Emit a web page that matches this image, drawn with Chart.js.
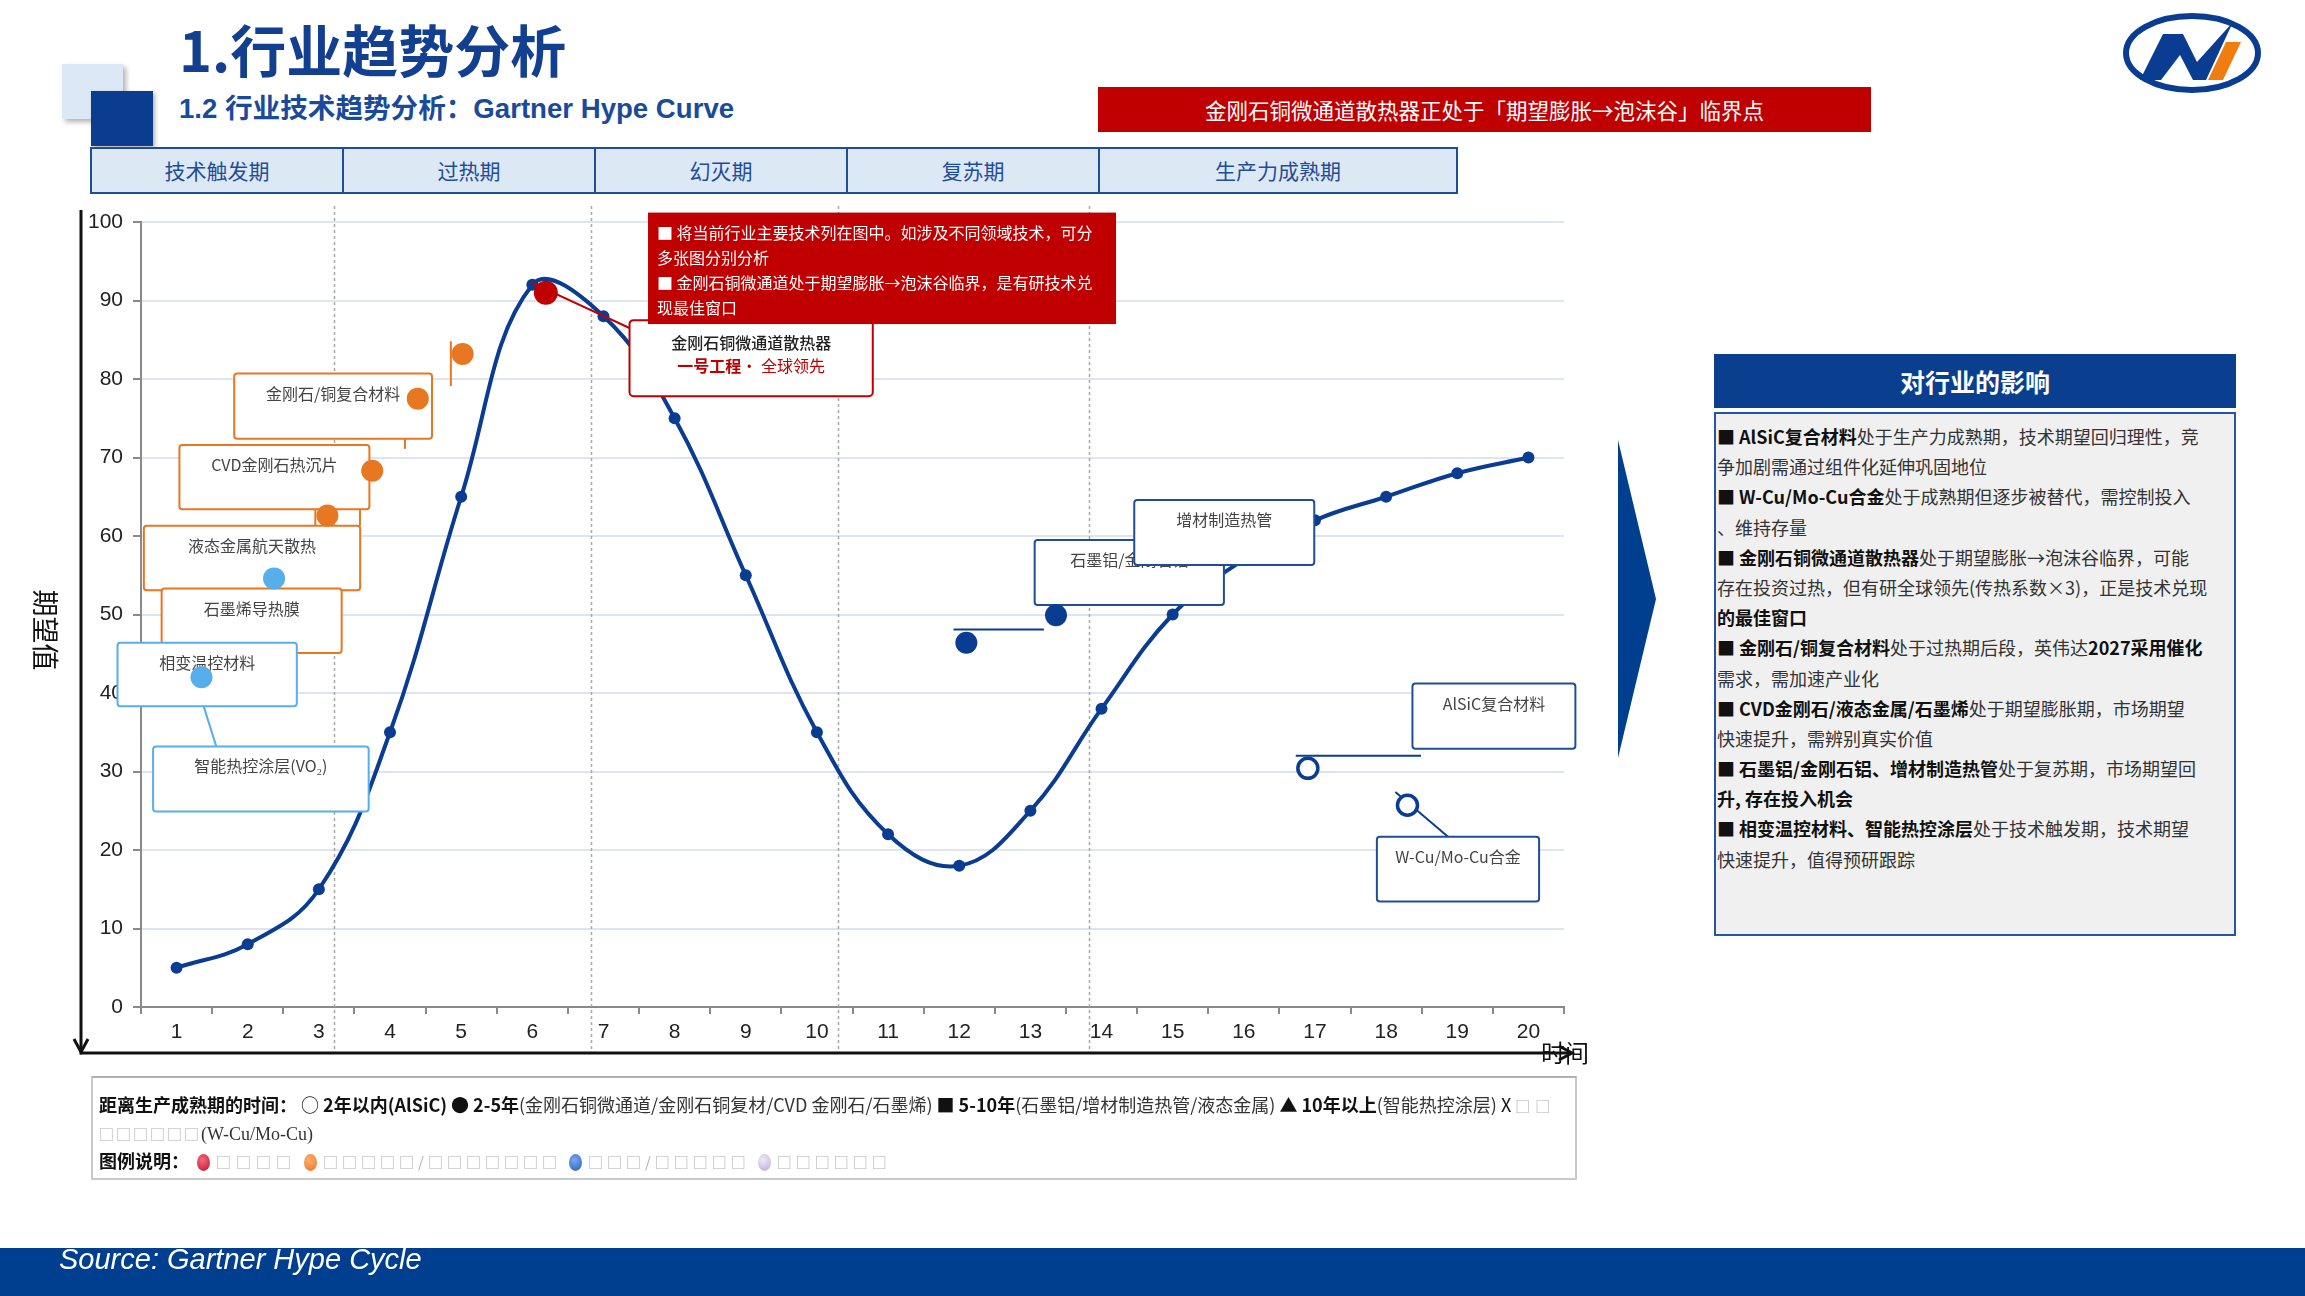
<!DOCTYPE html>
<html>
<head>
<meta charset="utf-8">
<script src="https://cdn.jsdelivr.net/npm/chart.js"></script>
<style>
  body { margin:0; width:2305px; height:1296px; position:relative; overflow:hidden; background:#fff;
         font-family:"Noto Sans CJK SC","Liberation Sans",sans-serif; }
  .abs { position:absolute; }
  .phase { position:absolute; top:147px; height:47px; box-sizing:border-box; background:#dde8f5;
           border:2px solid #1f4e99; color:#1f4e99; font-size:21px; line-height:43px; text-align:center; }
  #panelBody .ln { height:30.2px; line-height:30.2px; white-space:nowrap; font-size:18px; color:#333; }
  #panelBody b { color:#111; font-weight:700; }
  .lg { position:absolute; left:6px; height:24px; line-height:24px; font-size:18px; color:#111; white-space:nowrap; }
  .lg i { font-style:normal; color:#333; }
  .tofu { color:#b0b0b0; font-size:15px; letter-spacing:5px; }
  .ball { display:inline-block; width:13px; height:17px; border-radius:50%; vertical-align:-3px; margin:0 6px 0 8px; }
</style>
</head>
<body>

<!-- header -->
<div class="abs" style="left:62px;top:64px;width:61px;height:55px;background:#dce8f5;box-shadow:3px 3px 5px rgba(0,0,0,0.3)"></div>
<div class="abs" style="left:91px;top:91px;width:62px;height:55px;background:#0b3d8e;box-shadow:2px 2px 4px rgba(0,0,0,0.3)"></div>
<div class="abs" style="left:179px;top:12px;font-size:56px;line-height:72px;font-weight:700;color:#123f8f;">1.行业趋势分析</div>
<div class="abs" style="left:179px;top:92px;font-size:27.6px;line-height:34px;font-weight:700;color:#1a4a9a;font-family:'Liberation Sans','Noto Sans CJK SC',sans-serif;">1.2 行业技术趋势分析：Gartner Hype Curve</div>
<div class="abs" style="left:1098px;top:87px;width:773px;height:45px;background:#c00000;color:#fff;font-size:21.5px;line-height:45px;text-align:center;">金刚石铜微通道散热器正处于「期望膨胀→泡沫谷」临界点</div>

<svg class="abs" style="left:2110px;top:5px" width="170" height="100" viewBox="2110 5 170 100">
  <ellipse cx="2192" cy="53" rx="66" ry="37" fill="none" stroke="#0a3d91" stroke-width="6"/>
  <polygon points="2140,80 2163,34 2183,34 2197,62 2233,22 2206,80 2193,80 2180,55 2161,80" fill="#0a3d91"/>
  <polygon points="2208,80 2223,80 2241,42 2226,42" fill="#f07d10"/>
</svg>

<!-- phase header -->
<div class="phase" style="left:90px;width:254px;">技术触发期</div>
<div class="phase" style="left:342px;width:254px;">过热期</div>
<div class="phase" style="left:594px;width:254px;">幻灭期</div>
<div class="phase" style="left:846px;width:254px;">复苏期</div>
<div class="phase" style="left:1098px;width:360px;">生产力成熟期</div>

<!-- chart -->
<div class="abs" style="left:0;top:0;width:1700px;height:1296px;"><canvas id="hype"></canvas></div>

<!-- arrow -->
<svg class="abs" style="left:1610px;top:430px" width="60" height="340" viewBox="1610 430 60 340">
  <polygon points="1618,440 1656,599 1618,758" fill="#003f8f"/>
</svg>

<!-- right panel -->
<div class="abs" style="left:1714px;top:354px;width:522px;height:54px;background:#0a3e8f;color:#fff;font-size:25px;font-weight:700;line-height:54px;text-align:center;">对行业的影响</div>
<div id="panelBody" class="abs" style="left:1714px;top:412px;width:522px;height:524px;box-sizing:border-box;background:#f0f0f0;border:2px solid #2556a3;padding:7px 0 0 1px;">
  <div class="ln"><b>■ AlSiC复合材料</b>处于生产力成熟期，技术期望回归理性，竞</div>
  <div class="ln">争加剧需通过组件化延伸巩固地位</div>
  <div class="ln"><b>■ W-Cu/Mo-Cu合金</b>处于成熟期但逐步被替代，需控制投入</div>
  <div class="ln">、维持存量</div>
  <div class="ln"><b>■ 金刚石铜微通道散热器</b>处于期望膨胀→泡沫谷临界，可能</div>
  <div class="ln">存在投资过热，但有研全球领先(传热系数×3)，正是技术兑现</div>
  <div class="ln"><b>的最佳窗口</b></div>
  <div class="ln"><b>■ 金刚石/铜复合材料</b>处于过热期后段，英伟达<b>2027采用催化</b></div>
  <div class="ln">需求，需加速产业化</div>
  <div class="ln"><b>■ CVD金刚石/液态金属/石墨烯</b>处于期望膨胀期，市场期望</div>
  <div class="ln">快速提升，需辨别真实价值</div>
  <div class="ln"><b>■ 石墨铝/金刚石铝、增材制造热管</b>处于复苏期，市场期望回</div>
  <div class="ln"><b>升, 存在投入机会</b></div>
  <div class="ln"><b>■ 相变温控材料、智能热控涂层</b>处于技术触发期，技术期望</div>
  <div class="ln">快速提升，值得预研跟踪</div>
</div>

<!-- legend -->
<div class="abs" style="left:91px;top:1076px;width:1486px;height:104px;box-sizing:border-box;border:2px solid #c9c9c9;border-top-color:#b0b0b0;">
  <div class="lg" style="top:14px"><b>距离生产成熟期的时间：</b> ○ <b>2年以内(AlSiC)</b> ● <b>2-5年</b><i>(金刚石铜微通道/金刚石铜复材/CVD 金刚石/石墨烯)</i> ■ <b>5-10年</b><i>(石墨铝/增材制造热管/液态金属)</i> ▲ <b>10年以上</b><i>(智能热控涂层)</i> X <span class="tofu">□□</span></div>
  <div class="lg" style="top:42px"><span class="tofu" style="letter-spacing:2px">□□□□□□</span><i style="font-family:'Liberation Serif'">(W-Cu/Mo-Cu)</i></div>
  <div class="lg" style="top:70px"><b>图例说明：</b><span class="ball" style="background:radial-gradient(circle at 40% 35%,#f06a7a,#c8102e)"></span><span class="tofu">□□□□</span><span class="ball" style="background:radial-gradient(circle at 40% 35%,#ffb070,#e8701e)"></span><span class="tofu" style="letter-spacing:4px">□□□□□/□□□□□□□</span><span class="ball" style="background:radial-gradient(circle at 40% 35%,#7aa8f0,#2a5cc0)"></span><span class="tofu" style="letter-spacing:4px">□□□/□□□□□</span><span class="ball" style="background:radial-gradient(circle at 40% 35%,#f0eaf8,#b9a6d8)"></span><span class="tofu" style="letter-spacing:4px">□□□□□□</span></div>
</div>

<!-- footer -->
<div class="abs" style="left:0;top:1248px;width:2305px;height:48px;background:#003f8f;"></div>
<div class="abs" style="left:59px;top:1243px;font-family:'Liberation Sans';font-style:italic;font-size:29px;color:#fff;">Source: Gartner Hype Cycle</div>

<script>
// time axis (categories) and the hype curve
const years = ['1','2','3','4','5','6','7','8','9','10','11','12','13','14','15','16','17','18','19','20'];
const expectation = [5, 8, 15, 35, 65, 92, 88, 75, 55, 35, 22, 18, 25, 38, 50, 57, 62, 65, 68, 70];

// technologies placed on the curve (x = time position, y = expectation)
const redTech    = [{x: 6.19, y: 91}];
const orangeTech = [{x: 5.02, y: 83.2}, {x: 4.39, y: 77.5}, {x: 3.75, y: 68.3}, {x: 3.12, y: 62.6}];
const skyTech    = [{x: 2.37, y: 54.6}, {x: 1.35, y: 42}];
const navyTech   = [{x: 12.1, y: 46.4}, {x: 13.36, y: 49.9}];
const matureTech = [{x: 16.9, y: 30.4}, {x: 18.3, y: 25.7}];

// phase boundaries on the time axis
const phaseBounds = [3.21, 6.82, 10.3, 13.83];

// label boxes, in data units
const callouts = [
  {text: '金刚石/铜复合材料', x0: 1.81, x1: 4.59, y0: 80.7, y1: 72.4, color: '#e87722'},
  {text: 'CVD金刚石热沉片', x0: 1.04, x1: 3.71, y0: 71.6, y1: 63.4, color: '#e87722'},
  {text: '液态金属航天散热', x0: 0.54, x1: 3.58, y0: 61.3, y1: 53.1, color: '#e87722'},
  {text: '石墨烯导热膜', x0: 0.79, x1: 3.32, y0: 53.3, y1: 45.1, color: '#e87722'},
  {text: '相变温控材料', x0: 0.17, x1: 2.69, y0: 46.4, y1: 38.3, color: '#56aeea'},
  {text: '智能热控涂层(VO₂)', x0: 0.67, x1: 3.70, y0: 33.2, y1: 24.9, color: '#56aeea'},
  {text: '石墨铝/金刚石铝', x0: 13.06, x1: 15.72, y0: 59.5, y1: 51.2, color: '#1f4e99'},
  {text: '增材制造热管', x0: 14.46, x1: 16.99, y0: 64.6, y1: 56.3, color: '#1f4e99'},
  {text: 'AlSiC复合材料', x0: 18.37, x1: 20.66, y0: 41.2, y1: 32.9, color: '#1f4e99'},
  {text: 'W-Cu/Mo-Cu合金', x0: 17.87, x1: 20.15, y0: 21.7, y1: 13.45, color: '#1f4e99'}
];
const leaders = [
  {pts: [[4.855, 84.8], [4.855, 79.1]], color: '#e87722'},
  {pts: [[4.21, 79.0], [4.21, 71.1]], color: '#e87722'},
  {pts: [[3.578, 69.9], [3.578, 61.3]], color: '#e87722'},
  {pts: [[2.95, 64.0], [2.95, 53.1]], color: '#e87722'},
  {pts: [[2.187, 56.2], [2.187, 46.4]], color: '#56aeea'},
  {pts: [[1.284, 41.1], [1.558, 33.2]], color: '#56aeea'},
  {pts: [[5.98, 92.3], [7.366, 86.5]], color: '#c00000'},
  {pts: [[11.92, 48.1], [13.19, 48.1]], color: '#0a3d91'},
  {pts: [[13.21, 51.5], [14.44, 51.5]], color: '#0a3d91'},
  {pts: [[16.73, 32.0], [18.49, 32.0]], color: '#0a3d91'},
  {pts: [[18.13, 27.4], [18.87, 21.7]], color: '#0a3d91'}
];
const keyBox = {x0: 7.366, x1: 10.785, y0: 87.5, y1: 77.8};
const noteBox = {x0: 7.626, x1: 14.204, y0: 101.2, y1: 87.0};
const noteLines = [
  '■ 将当前行业主要技术列在图中。如涉及不同领域技术，可分',
  '多张图分别分析',
  '■ 金刚石铜微通道处于期望膨胀→泡沫谷临界，是有研技术兑',
  '现最佳窗口'
];

const CJK = '"Noto Sans CJK SC"';

const decor = {
  id: 'decor',
  beforeDatasetsDraw(chart) {
    const {ctx, chartArea: a} = chart;
    const xs = chart.scales.x2;
    ctx.save();
    ctx.strokeStyle = '#a8a8a8';
    ctx.lineWidth = 1.5;
    ctx.setLineDash([3, 3]);
    phaseBounds.forEach(v => {
      const px = Math.round(xs.getPixelForValue(v)) + 0.5;
      ctx.beginPath(); ctx.moveTo(px, a.top - 16); ctx.lineTo(px, a.bottom + 46); ctx.stroke();
    });
    ctx.restore();
  },
  afterDatasetDraw(chart, args) {
    if (args.index !== 0) return;
    const {ctx} = chart;
    const xs = chart.scales.x2, ys = chart.scales.y;
    const P = (x, y) => [xs.getPixelForValue(x), ys.getPixelForValue(y)];
    ctx.save();
    // leader lines
    leaders.forEach(l => {
      ctx.strokeStyle = l.color; ctx.lineWidth = 2;
      ctx.beginPath();
      l.pts.forEach((p, i) => { const [px, py] = P(p[0], p[1]); i ? ctx.lineTo(px, py) : ctx.moveTo(px, py); });
      ctx.stroke();
    });
    // label boxes
    callouts.forEach(c => {
      const [l, t] = P(c.x0, c.y0), [r, b] = P(c.x1, c.y1);
      ctx.beginPath(); ctx.roundRect(l, t, r - l, b - t, 3);
      ctx.fillStyle = '#fff'; ctx.fill();
      ctx.strokeStyle = c.color; ctx.lineWidth = 2; ctx.stroke();
      ctx.fillStyle = '#444'; ctx.font = '16px ' + CJK;
      ctx.textAlign = 'center'; ctx.textBaseline = 'middle';
      ctx.fillText(c.text, (l + r) / 2, t + 20);
    });
    // key technology box
    {
      const [l, t] = P(keyBox.x0, keyBox.y0), [r, b] = P(keyBox.x1, keyBox.y1);
      ctx.beginPath(); ctx.roundRect(l, t, r - l, b - t, 4);
      ctx.fillStyle = '#fff'; ctx.fill();
      ctx.strokeStyle = '#c00000'; ctx.lineWidth = 2; ctx.stroke();
      const cx = (l + r) / 2;
      ctx.textBaseline = 'middle'; ctx.textAlign = 'center';
      ctx.fillStyle = '#222'; ctx.font = '500 16px ' + CJK;
      ctx.fillText('金刚石铜微通道散热器', cx, t + 23);
      ctx.font = 'bold 16px ' + CJK;
      const w1 = ctx.measureText('一号工程').width;
      ctx.font = '16px ' + CJK;
      const w2 = ctx.measureText('· 全球领先').width;
      let sx = cx - (w1 + w2) / 2;
      ctx.textAlign = 'left'; ctx.fillStyle = '#c00000';
      ctx.font = 'bold 16px ' + CJK; ctx.fillText('一号工程', sx, t + 46);
      ctx.font = '16px ' + CJK; ctx.fillText('· 全球领先', sx + w1, t + 46);
    }
    // red note box
    {
      const [l, t] = P(noteBox.x0, noteBox.y0), [r, b] = P(noteBox.x1, noteBox.y1);
      ctx.fillStyle = '#c00000'; ctx.fillRect(l, t, r - l, b - t);
      ctx.fillStyle = '#fff'; ctx.font = '16px ' + CJK;
      ctx.textAlign = 'left'; ctx.textBaseline = 'middle';
      noteLines.forEach((s, i) => ctx.fillText(s, l + 9, t + 20 + i * 25.2));
    }
    ctx.restore();
  },
  afterDraw(chart) {
    const {ctx, chartArea: a} = chart;
    const ax = a.left - 60, ay = a.bottom + 46;
    ctx.save();
    ctx.strokeStyle = '#111'; ctx.lineWidth = 3;
    ctx.beginPath(); ctx.moveTo(ax, a.top - 12); ctx.lineTo(ax, ay); ctx.lineTo(a.right + 8, ay); ctx.stroke();
    ctx.beginPath(); ctx.moveTo(ax - 7, ay - 14); ctx.lineTo(ax, ay - 1); ctx.lineTo(ax + 7, ay - 14); ctx.stroke();
    ctx.beginPath(); ctx.moveTo(a.right - 5, ay - 7); ctx.lineTo(a.right + 8, ay); ctx.lineTo(a.right - 5, ay + 7); ctx.stroke();
    ctx.fillStyle = '#111'; ctx.textAlign = 'center'; ctx.textBaseline = 'middle';
    ctx.font = '24px ' + CJK;
    ctx.fillText('时间', a.right + 1, ay);
    ctx.translate(ax - 36, 630); ctx.rotate(Math.PI / 2);
    ctx.font = '27px ' + CJK;
    ctx.fillText('期望值', 0, 0);
    ctx.restore();
  }
};

const scatter = (data, color, r, extra) => Object.assign({
  type: 'scatter', data, xAxisID: 'x2', yAxisID: 'y', order: 0,
  pointRadius: r, pointBackgroundColor: color, pointBorderColor: color, pointBorderWidth: 0
}, extra || {});

new Chart(document.getElementById('hype'), {
  type: 'line',
  data: {
    labels: years,
    datasets: [
      { data: expectation, xAxisID: 'x', yAxisID: 'y', order: 10,
        borderColor: '#0a3d91', borderWidth: 4, tension: 0.4,
        pointRadius: 6, pointBackgroundColor: '#0a3d91', pointBorderWidth: 0 },
      scatter(redTech, '#c00000', 12),
      scatter(orangeTech, '#e87722', 11),
      scatter(skyTech, '#56aeea', 11),
      scatter(navyTech, '#0a3d91', 11),
      scatter(matureTech, '#ffffff', 10, {pointBorderColor: '#0a3d91', pointBorderWidth: 3.5})
    ]
  },
  options: {
    responsive: true,
    maintainAspectRatio: false,
    animation: false,
    layout: { padding: { left: 81, top: 222, right: 136, bottom: 249 } },
    plugins: { legend: { display: false }, tooltip: { enabled: false } },
    scales: {
      x: {
        type: 'category', offset: true,
        grid: { offset: true, drawOnChartArea: false, tickLength: 7, color: '#8a8a8a', lineWidth: 2 },
        border: { color: '#8a8a8a', width: 2 },
        ticks: { color: '#222', font: { family: 'Liberation Sans', size: 21 }, padding: 6, maxRotation: 0, autoSkip: false },
        afterFit(s) { s.height = 40; }
      },
      x2: { type: 'linear', min: 0.5, max: 20.5, display: false },
      y: {
        min: 0, max: 100,
        grid: { color: '#dfe5f0', lineWidth: 2, tickLength: 8, tickColor: '#8a8a8a' },
        border: { color: '#8a8a8a', width: 2 },
        ticks: { stepSize: 10, color: '#222', font: { family: 'Liberation Sans', size: 21 }, padding: 10 },
        afterFit(s) { s.width = 60; }
      }
    }
  },
  plugins: [decor]
});
</script>
</body>
</html>
